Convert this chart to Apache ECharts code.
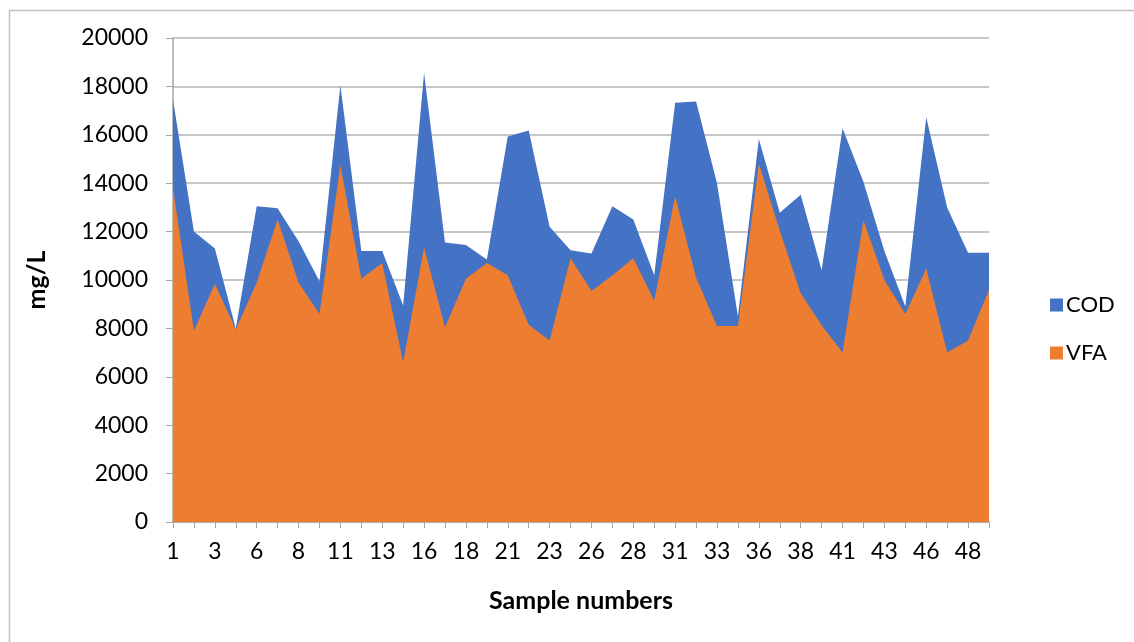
<!DOCTYPE html>
<html>
<head>
<meta charset="utf-8">
<script src="https://cdn.jsdelivr.net/npm/echarts@6/dist/echarts.min.js"></script>
<style>
html,body{margin:0;padding:0;background:#fff;}
#c{width:1134px;height:642px;}
</style>
</head>
<body>
<div id="c"></div>
<script>
const categories = ['1','2','3','4','6','7','8','9','11','12','13','14','16','17','18','19','21','22','23','24','26','27','28','29','31','32','33','34','36','37','38','39','41','42','43','44','46','47','48','49'];
const codValues = [17450,12000,11300,8000,13050,12970,11600,9950,18050,11200,11200,8950,18550,11550,11450,10850,15930,16180,12200,11230,11100,13050,12500,10200,17320,17380,14000,8500,15830,12780,13520,10400,16270,14050,11200,8900,16730,13000,11130,11130];
const vfaValues = [13800,7900,9850,7950,9900,12500,9900,8600,14750,10050,10700,6600,11350,8050,10050,10700,10200,8150,7500,10900,9550,10200,10900,9150,13450,10100,8100,8100,14800,12050,9450,8130,7000,12470,10000,8600,10480,7000,7500,9600];
const yTicks = {min: 0, max: 20000, interval: 2000};

const chart = echarts.init(document.getElementById('c'));
const font = 'Lato, "Open Sans", sans-serif';
chart.setOption({
  animation: false,
  backgroundColor: '#ffffff',
  graphic: [{
    type: 'rect', left: 7, top: 8, silent: true,
    shape: {x: 0, y: 0, width: 1200, height: 700},
    style: {fill: 'none', stroke: '#bfbfbf', lineWidth: 1.5}
  }],
  grid: {left: 173, right: 145, top: 38, bottom: 120},
  legend: {
    data: ['COD', 'VFA'],
    orient: 'vertical',
    left: 1045, top: 289,
    icon: 'rect', itemWidth: 13, itemHeight: 13, itemGap: 26,
    textStyle: {fontFamily: font, fontSize: 22, color: '#000', padding: [0,0,0,-2]}
  },
  xAxis: {
    type: 'category',
    data: categories,
    boundaryGap: false,
    name: 'Sample numbers',
    nameLocation: 'middle',
    nameGap: 66,
    nameTextStyle: {fontFamily: font, fontSize: 25, fontWeight: 'bold', color: '#000'},
    axisLine: {lineStyle: {color: '#a6a6a6', width: 1.5}},
    axisTick: {show: true, interval: 0, length: 6, lineStyle: {color: '#a6a6a6'}},
    axisLabel: {interval: 1, fontFamily: font, fontSize: 23, color: '#000', margin: 18},
    splitLine: {show: false}
  },
  yAxis: {
    type: 'value',
    min: yTicks.min, max: yTicks.max, interval: yTicks.interval,
    name: 'mg/L',
    nameLocation: 'middle',
    nameRotate: 90,
    nameGap: 124,
    nameTextStyle: {fontFamily: font, fontSize: 25, fontWeight: 'bold', color: '#000'},
    axisLine: {show: true, lineStyle: {color: '#a6a6a6', width: 1.5}},
    axisTick: {show: true, length: 7, lineStyle: {color: '#a6a6a6'}},
    axisLabel: {fontFamily: font, fontSize: 23, color: '#000', margin: 25, formatter: function (v) { return String(v); }},
    splitLine: {lineStyle: {color: '#b3b3b3', width: 1.5}}
  },
  series: [
    {
      name: 'COD', type: 'line', data: codValues,
      symbol: 'none', lineStyle: {width: 0}, itemStyle: {color: '#4472c4'},
      areaStyle: {color: '#4472c4', opacity: 1}, z: 2
    },
    {
      name: 'VFA', type: 'line', data: vfaValues,
      symbol: 'none', lineStyle: {width: 0}, itemStyle: {color: '#ed7d31'},
      areaStyle: {color: '#ed7d31', opacity: 1}, z: 3
    }
  ]
});
</script>
</body>
</html>
